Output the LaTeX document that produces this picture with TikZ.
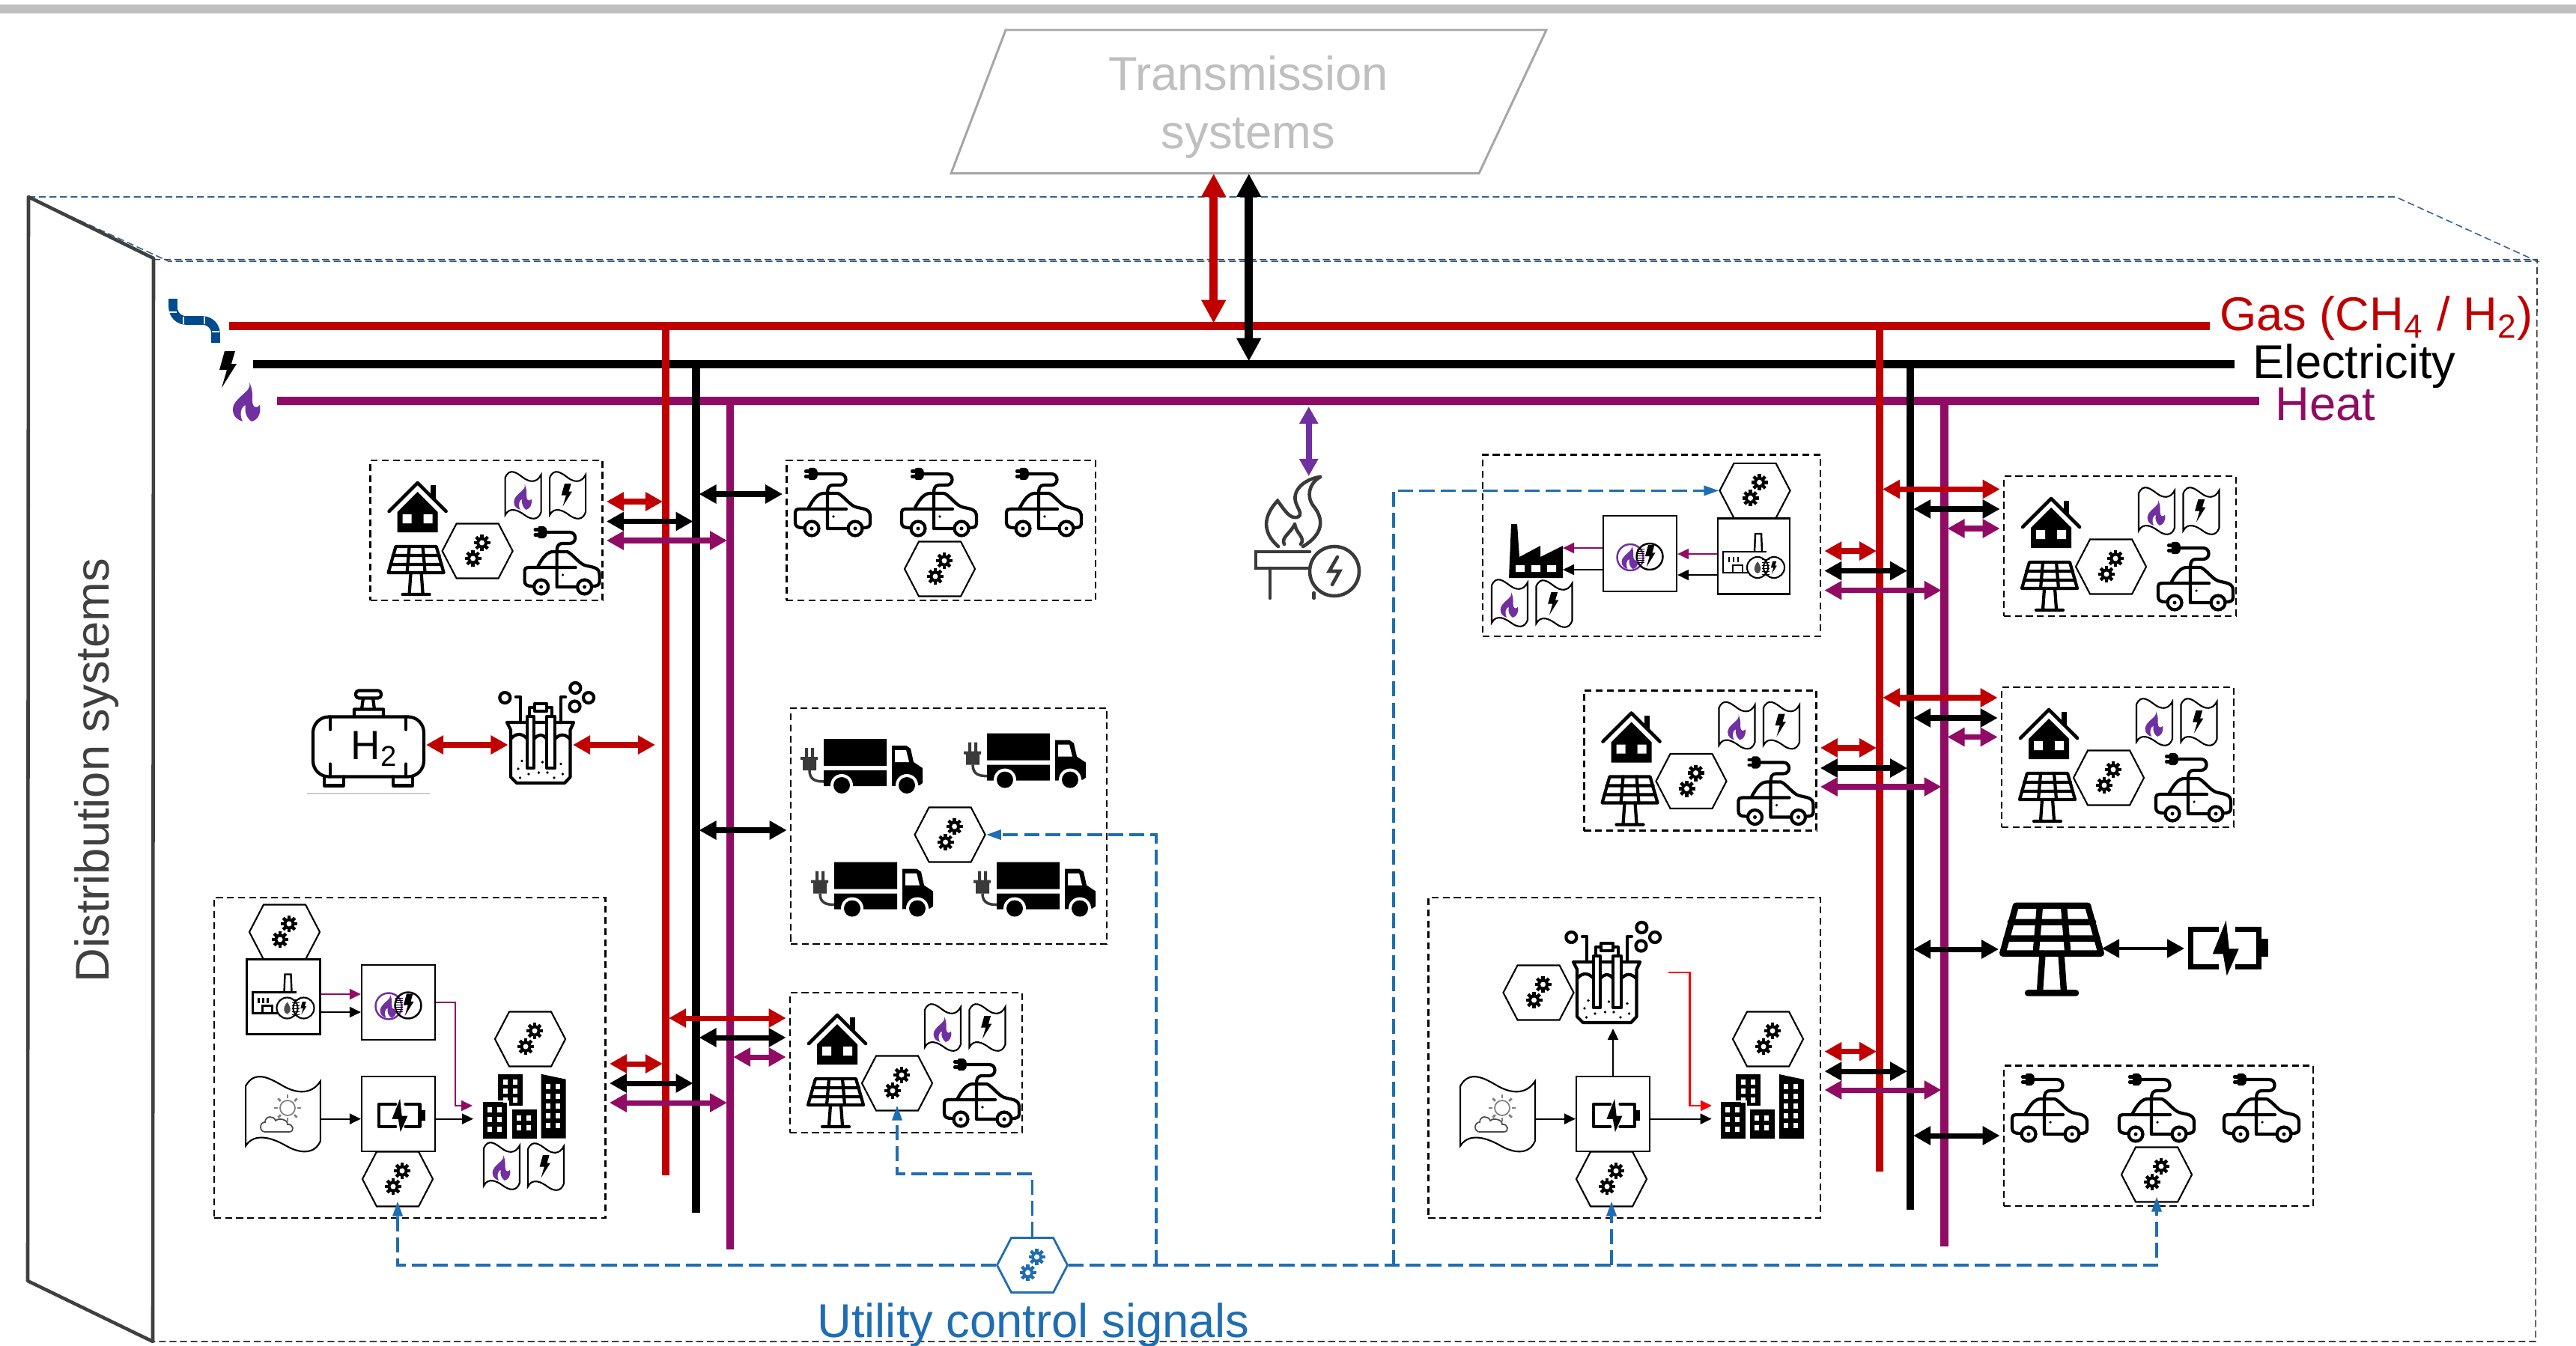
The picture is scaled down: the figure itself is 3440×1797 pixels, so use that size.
\documentclass[tikz,border=0pt]{standalone}
\usepackage{fontspec}
\setmainfont{Liberation Sans}
\usepackage{xcolor}
\usetikzlibrary{arrows.meta, shapes.symbols}

\definecolor{gascol}{HTML}{C00000}
\definecolor{heatcol}{HTML}{900C64}
\definecolor{flamecol}{HTML}{7030A0}
\definecolor{ctrlcol}{HTML}{1F6DB2}
\definecolor{backcol}{HTML}{2F6594}
\definecolor{pipecol}{HTML}{004B8D}
\definecolor{wallcol}{HTML}{404040}
\definecolor{burncol}{HTML}{3A3A3A}

% icons, local units are pixels of the picture
\tikzset{
  icon/.style={draw=black, line width=1.2pt, line cap=round, line join=round},
  thinicon/.style={draw=black, line width=.6pt},
  gear/.pic={
    \fill circle (7.5);
    \foreach \a in {0,45,...,315} \fill[rotate=\a] (-2.2,-11) rectangle (2.2,0);
    \fill[white] circle (3.5);
  },
  gears/.pic={\pic at (6,-11) {gear}; \pic at (-6,10) {gear};},
  flame/.pic={
    \fill[flamecol] (3,-26) .. controls (8,-14) and (-19,-6) .. (-19,10)
      .. controls (-19,20) and (-12,24) .. (-6,26) .. controls (-11,16) and (-8,6) .. (-2,4)
      .. controls (-4,14) and (0,22) .. (6,26) .. controls (14,24) and (19,16) .. (17,4)
      .. controls (14,8) and (10,8) .. (8,4) .. controls (5,-4) and (10,-12) .. (3,-26) -- cycle;
  },
  bolt/.pic={
    \fill (-5,-24) -- (9,-24) -- (4,-7) -- (11,-7) -- (-9,25) -- (-2,1) -- (-12,1) -- cycle;
  },
  flag/.pic={
    \draw[thinicon] (-24,-24) .. controls (-18,-38) and (-8,-30) .. (0,-24)
      .. controls (8,-18) and (18,-16) .. (24,-28) -- (24,22)
      .. controls (20,34) and (10,32) .. (2,26) .. controls (-6,20) and (-18,14) .. (-24,26) -- cycle;
  },
  heatflag/.pic={\pic {flag}; \pic[scale=.65] at (0,2) {flame};},
  elecflag/.pic={\pic {flag}; \pic[scale=.62] at (-1,-1) {bolt};},
  weatherflag/.pic={
    \pic[xscale=2.08, yscale=1.6] {flag};
    \draw[gray, line width=.5pt] (6,-9) circle (10);
    \foreach \a in {0,45,...,315} \draw[gray, line width=.8pt, rotate around={\a:(6,-9)}] (6,-22) -- (6,-27);
    \draw[black!70, line width=.5pt, fill=white] (-24,23) .. controls (-32,23) and (-32,10) .. (-24,10)
      .. controls (-24,1) and (-12,1) .. (-10,8) .. controls (-6,4) and (6,6) .. (6,13)
      .. controls (14,12) and (16,23) .. (8,23) -- cycle;
  },
  house/.pic={
    \draw[icon, line width=1.3pt] (-38,5) -- (0,-33) -- (38,5);
    \fill (17,-30) rectangle (24,-12);
    \fill (-27,6) -- (0,-21) -- (27,6) -- (27,33) -- (-27,33) -- cycle;
    \fill[white] (-20,9) rectangle (-8,21) (8,9) rectangle (20,21);
  },
  solar/.pic={
    \draw[icon] (-27,-33) -- (27,-33) -- (37,2) -- (-37,2) -- cycle;
    \draw[icon] (-9,-33) -- (-12,2) (9,-33) -- (12,2) (-31,-21) -- (31,-21) (-34,-9) -- (34,-9);
    \draw[icon] (-7,2) -- (-9,30) (7,2) -- (9,30) (-18,31) -- (18,31);
  },
  evcar/.pic={
    \draw[icon] (-36,-42.5) -- (-30,-42.5) (-36,-35.5) -- (-30,-35.5);
    \draw[icon, fill=black] (-30,-45) -- (-25,-45) .. controls (-21,-45) and (-21,-33) .. (-25,-33) -- (-30,-33) -- cycle;
    \draw[icon] (-22,-39) -- (10,-39) .. controls (20,-39) and (20,-24) .. (10,-24) -- (0,-24)
      .. controls (-5,-24) and (-7,-20) .. (-7,-14) -- (-7,34) -- (19,34);
    \draw[icon] (-32,6) .. controls (-26,-5) and (-20,-13) .. (-12,-13) -- (7,-13)
      .. controls (14,-10) and (22,2) .. (30,5) .. controls (40,8) and (50,7) .. (50,18)
      -- (50,27) .. controls (50,32) and (46,33) .. (41,33);
    \draw[icon] (-40,33) .. controls (-47,33) and (-50,31) .. (-50,26) -- (-50,12)
      .. controls (-50,9) and (-48,8) .. (-45,8) -- (18,8);
    \draw[icon] (-28,34) circle (9.5) (30,34) circle (9.5);
    \fill (-28,34) circle (2.5) (30,34) circle (2.5) (1,18) circle (1.8);
  },
  truck/.pic={
    \fill (-50,-37) rectangle (34,-1) (-50,5) rectangle (34,26);
    \fill (41,-28) -- (60,-28) -- (66,-24) -- (70,-6) -- (82,2) -- (82,22) -- (78,25) -- (41,26) -- cycle;
    \fill[white] (45,-22) -- (60,-22) -- (64,-6) -- (45,-6) -- cycle;
    \fill[white] (-26,25) circle (15) (61,25) circle (15);
    \fill (-26,25) circle (11) (61,25) circle (11);
    \fill[burncol] (-75,-25) rectangle (-71,-12) (-67,-25) rectangle (-63,-12)
      (-81,-13) rectangle (-58,-9) (-78,-9) rectangle (-60,5);
    \draw[burncol, line width=1pt] (-69,5) .. controls (-69,18) and (-60,20) .. (-50,20);
  },
  batt/.pic={
    \draw[icon] (-13,-25) -- (-50,-25) -- (-50,25) -- (-13,25) (9,-25) -- (41,-25) -- (41,25) -- (9,25);
    \fill (44,-12) rectangle (53,12);
    \fill (-3,-37) -- (-21,8) -- (-7,8) -- (-2,37) -- (14,1) -- (1,1) -- cycle;
  },
  chpicon/.pic={
    \draw[thinicon, line width=.7pt] (-5,22) -- (-41,22) -- (-41,-6) -- (17,-6);
    \draw[thinicon, line width=.7pt] (1,-6) -- (2,-30) -- (10,-30) -- (11,-6);
    \draw[thinicon] (-33,1) -- (-33,8) (-27,1) -- (-27,8) (-21,1) -- (-21,8) (-28,22) -- (-28,12) -- (-15,12) -- (-15,22);
    \draw[thinicon, fill=white] (5,15) circle (14) (27,15) circle (14);
    \foreach \l in {4,8,12,16,20,24} \draw[thinicon, line width=.25pt] (11,\l) -- (21,\l);
    \fill[black!70] (5,7) .. controls (12,16) and (9,22) .. (5,23) .. controls (1,22) and (-2,16) .. (5,7) -- cycle;
    \pic[scale=.35] at (27,15) {bolt};
  },
  convicon/.pic={
    \draw[flamecol, line width=.7pt] (-13,5) circle (17.5);
    \draw[thinicon, line width=.7pt] (13,4) circle (17.5);
    \pic[scale=.6] at (-13,5) {flame};
    \pic[scale=.6] at (14,3) {bolt};
    \foreach \l in {-6,-3,0,3,6,9,12} \draw[thinicon, line width=.25pt] (-4,\l) -- (6,\l);
  },
  city/.pic={
    \fill (-35,-43) rectangle (-2,-1);
    \fill[draw=white, line width=.6pt] (-56,-7) rectangle (-21,44);
    \fill (-16,4) rectangle (17,43);
    \fill (23,-43) -- (56,-36) -- (56,43) -- (23,43) -- cycle;
    \foreach \wx in {-49,-36} \foreach \wy in {1,14,27} \fill[white] (\wx,\wy) rectangle +(6,7);
    \foreach \wx in {-28,-15} \foreach \wy in {-36,-24,-12} \fill[white] (\wx,\wy) rectangle +(6,7);
    \foreach \wx in {-10,3} \foreach \wy in {12,25} \fill[white] (\wx,\wy) rectangle +(6,7);
    \foreach \wx in {29,42} \foreach \wy in {-30,-17,-4,9,22} \fill[white] (\wx,\wy) rectangle +(6,7);
  },
  factory/.pic={
    \fill (-36,36) -- (-33,-36) -- (-25,-36) -- (-22,8) -- (6,-7) -- (6,8) -- (36,-7) -- (36,36) -- cycle;
    \fill[white] (-27,19) rectangle (-15,28) (-6,19) rectangle (6,28) (15,19) rectangle (27,28);
  },
  electro/.pic={
    \draw[icon] (-53,-15) -- (36,-15) -- (31.5,-5) -- (31.5,58) -- (24,66) -- (-40,66) -- (-48,58) -- (-48,-5) -- cycle;
    \draw[icon] (-48,7) .. controls (-40,-2) and (-32,0) .. (-26,7) (-17,7) .. controls (-10,0) and (-6,0) .. (0,7)
      (11,7) .. controls (18,0) and (24,0) .. (31,7);
    \draw[icon, fill=white] (-26,-23) rectangle (-17,46) (0,-23) rectangle (11,46);
    \draw[icon] (-23,-23) -- (-23,-35) -- (7,-35) -- (7,-23);
    \draw[icon, fill=white] (-16,-40) rectangle (0,-30);
    \draw[icon] (-35,-15) -- (-35,-49) -- (-41,-49) (19,-15) -- (19,-49) -- (25,-49);
    \draw[icon] (-55.7,-48) circle (7) (38.3,-61) circle (7) (56,-48) circle (7) (37.5,-36.5) circle (7);
    \foreach \dx/\dy in {-33/36.5,-5.6/38,19/40.5,-38/47,-24/54,-10.6/52,1/52,21.5/54,-35.5/59,10/59}
      \fill (\dx,\dy) circle (1.9);
  },
  tank/.pic={
    \draw[icon, rounded corners=6pt] (-74,-40) rectangle (74,40);
    \draw[icon] (-51,-40) -- (-51,-23) (50,-40) -- (50,-23) (-51,23) -- (-51,40) (50,23) -- (50,40);
    \draw[icon] (-19,-41) -- (-19,-50) -- (20,-50) -- (20,-41) (-9,-50) -- (-7,-65) (8,-50) -- (6,-65);
    \draw[icon, rounded corners=1.2pt, fill=white] (-17,-75) rectangle (17,-65);
    \draw[icon] (-59,40) -- (-59,52) -- (-33,52) -- (-33,40) (33,40) -- (33,52) -- (59,52) -- (59,40);
    \draw[black!20, line width=.5pt] (-82,62.5) -- (82,62.5);
  },
  burner/.pic={
    \begin{scope}[burncol, line width=1.3pt, line cap=round]
    \draw (17,-81) .. controls (-5,-78) and (-22,-62) .. (-15,-45) .. controls (-11,-35) and (-6,-30) .. (-14,-27)
      .. controls (-24,-25) and (-30,-36) .. (-40,-49) .. controls (-58,-30) and (-62,-8) .. (-39,12);
    \draw (17,-81) .. controls (2,-72) and (-2,-55) .. (8,-42) .. controls (22,-25) and (22,-5) .. (-6,12);
    \draw (-17,-18) .. controls (-22,-6) and (-36,0) .. (-31,9) (-17,-18) .. controls (-16,-6) and (-2,0) .. (-9,9);
    \draw (3,19) -- (-69,19) -- (-69,41) -- (3,41) (-50,41) -- (-50,81) (8.6,74) -- (8.6,81);
    \draw (36,45) circle (33);
    \draw (40,26) -- (29,45) -- (43,45) -- (33,63);
    \end{scope}
  },
  pipe/.pic={
    \draw[pipecol, line width=3.3pt, rounded corners=5pt] (-29,-30) -- (-29,-1) -- (28,-1) -- (28,29);
    \draw[white, line width=.4pt] (-34,-12) -- (-24,-12) (-15,-6) -- (-15,4) (13,-6) -- (13,4) (23,14) -- (33,14);
  },
  prosumer/.pic={
    \node[groupbox, minimum width=3.1cm, minimum height=1.87cm] (-box) at (155,93.5) {};
    \node[hexnode] (-hex) at (143,121) {};
    \pic at (-hex) {gears};
    \pic at (63,63) {house};
    \pic at (61,148) {solar};
    \pic at (204,47) {heatflag};
    \pic at (263.5,47) {elecflag};
    \pic at (256,135) {evcar};
  }
}

\tikzset{
  groupbox/.style={rectangle, draw, line width=.7pt, dash pattern=on 2.6pt off 1.6pt, inner sep=0pt},
  hexnode/.style={shape=signal, signal to=east and west, signal pointer angle=125, draw, line width=.6pt,
                  fill=white, minimum width=.94cm, minimum height=.73cm, inner sep=0pt},
  unitbox/.style={rectangle, draw, line width=.6pt, fill=white, minimum width=.98cm, minimum height=1cm, inner sep=0pt}
}

\begin{document}
\begin{tikzpicture}[
    x=0.01cm, y=-0.01cm,
    bigtext/.style={font=\fontsize{18}{22}\selectfont, inner sep=0pt, align=center},
    bus/.style={line width=3pt},
    bustip/.style={line width=2pt, shorten <=0.04cm, shorten >=0.04cm,
                   {Triangle[length=0.23cm,width=0.24cm]}-{Triangle[length=0.23cm,width=0.24cm]}},
    maintip/.style={line width=3pt, shorten >=0.04cm,
                   {Triangle[length=0.31cm,width=0.31cm]}-{Triangle[length=0.31cm,width=0.31cm]}},
    flow/.style={line width=.6pt, -{Triangle[length=0.15cm,width=0.14cm]}},
    sigline/.style={ctrlcol, line width=1pt, dash pattern=on 5.7pt off 2.3pt},
    sigtip/.style={sigline, shorten >=-0.08cm, -{Triangle[length=0.2cm,width=0.13cm]}},
    frame/.style={wallcol, line width=.45pt, dash pattern=on 2.6pt off 1.4pt},
    backline/.style={backcol, line width=.45pt, dash pattern=on 2.6pt off 1.4pt}]
  \useasboundingbox (0,0) rectangle (3440,1797);
  \fill[black!25] (0,6.5) rectangle (3440,18);

  % outer frame and wall
  \draw[backline] (38,263) -- (3199,263) -- (3388,349) -- (225,349) -- cycle;
  \draw[frame] (205,346.7) -- (3388,346.7) -- (3386,1792) -- (204,1792);
  \draw[wallcol, line width=1.3pt, line join=round] (38,263) -- (205,345) -- (204,1792) -- (37,1711) -- cycle;
  \node[bigtext, wallcol, rotate=90] (walltext) at (129,1029) {Distribution systems};

  % transmission
  \draw[black!35, line width=.85pt] (1343,40) -- (2065,40) -- (1975,231.7) -- (1270,231.7) -- cycle;
  \node[bigtext, black!25] (trans) at (1667,143) {Transmission\\systems};
  \coordinate (transgas) at (1620.7,232);
  \coordinate (transelec) at (1667.7,232);

  % main lines
  \coordinate (gasW) at (306,435.7);   \coordinate (gasE) at (2951,435.7);
  \coordinate (elecW) at (338,486.7);  \coordinate (elecE) at (2984,486.7);
  \coordinate (heatW) at (370,535.7); \coordinate (heatE) at (3017,535.7);
  \coordinate (gasL) at (889,1570);  \coordinate (elecL) at (929.5,1620); \coordinate (heatL) at (975,1669);
  \coordinate (gasR) at (2510,1565); \coordinate (elecR) at (2551,1616);  \coordinate (heatR) at (2596.5,1665);
  \draw[bus, gascol] (gasW) -- (gasE);
  \draw[bus, black] (elecW) -- (elecE);
  \draw[bus, heatcol] (heatW) -- (heatE);
  \draw[bus, heatcol] (heatL |- heatW) -- (heatL);
  \draw[bus, heatcol] (heatR |- heatW) -- (heatR);
  \draw[bus, black] (elecL |- elecW) -- (elecL);
  \draw[bus, black] (elecR |- elecW) -- (elecR);
  \draw[bus, gascol] (gasL |- gasW) -- (gasL);
  \draw[bus, gascol] (gasR |- gasW) -- (gasR);
  \draw[maintip, gascol] (transgas) -- (transgas |- gasW);
  \draw[maintip, black] (transelec) -- (transelec |- elecW);
  \node[bigtext, gascol, anchor=base west] (gastext) at (2963.5,441.7) {Gas (CH\textsubscript{4} / H\textsubscript{2})};
  \node[bigtext, black, anchor=base west] (electext) at (3008,505) {Electricity};
  \node[bigtext, heatcol, anchor=base west] (heattext) at (3038,561) {Heat};
  \pic at (260,429) {pipe};
  \pic at (305,493) {bolt};
  \pic at (330,537) {flame};

  % prosumer groups
  \pic (p1) at (494.6,615) {prosumer};
  \pic (p5) at (1055,1326) {prosumer};
  \pic (p7) at (2676,636) {prosumer};
  \pic (p8) at (2115.5,922.5) {prosumer};
  \pic (p9) at (2673,918) {prosumer};

  % car groups
  \node[groupbox, minimum width=4.125cm, minimum height=1.87cm] (evbox) at (1256.7,708.5) {};
  \node[hexnode] (evhex) at (1255,760) {};
  \pic at (evhex) {gears};
  \foreach \cx in {1112,1254,1394} \pic at (\cx,672) {evcar};
  \node[groupbox, minimum width=4.13cm, minimum height=1.875cm] (evbox2) at (2882.5,1517.3) {};
  \node[hexnode] (evhex2) at (2880,1569) {};
  \pic at (evhex2) {gears};
  \foreach \cx in {2737,2880,3020} \pic at (\cx,1481) {evcar};

  % trucks
  \node[groupbox, minimum width=4.22cm, minimum height=3.15cm] (trbox) at (1267,1103.5) {};
  \node[hexnode] (trhex) at (1268.6,1115) {};
  \pic at (trhex) {gears};
  \foreach \tx/\ty in {1150/1024,1368/1016.6,1164/1188.5,1381/1188.5} \pic at (\tx,\ty) {truck};

  % burner, hydrogen
  \pic at (1746,718) {burner};
  \coordinate (burnertop) at (1747.7,636);
  \coordinate (burnerbus) at (1747.7,543);
  \draw[bustip, flamecol, line width=2.2pt, shorten >=0pt, shorten <=0pt] (burnerbus) -- (burnertop);
  \pic at (492,997.5) {tank};
  \node[inner sep=0pt, font=\fontsize{15.5}{18}\selectfont] (h2text) at (500,1000) {H\textsubscript{2}};
  \pic at (730,980) {electro};
  \coordinate (tankend) at (569,995);
  \coordinate (elA) at (678.5,995);
  \coordinate (elB) at (765,995);
  \draw[bustip, gascol, shorten >=0pt, shorten <=0pt] (tankend) -- (elA);
  \draw[bustip, gascol, shorten >=0.14cm, shorten <=0pt] (elB) -- (elB -| gasL);

  % left big group
  \node[groupbox, minimum width=5.225cm, minimum height=4.28cm] (leftbox) at (547.3,1413) {};
  \node[hexnode] (lefthexa) at (380,1245) {};
  \pic at (lefthexa) {gears};
  \node[unitbox] (leftchp) at (378.5,1331.5) {};
  \pic at (leftchp) {chpicon};
  \node[unitbox] (leftconv) at (532,1339) {};
  \pic at (leftconv) {convicon};
  \pic (leftsky) at (378,1489) {weatherflag};
  \coordinate (leftskyend) at (427.5,1494.6);
  \node[unitbox] (leftbat) at (532,1488) {};
  \pic[scale=.6] at (536,1490) {batt};
  \node[hexnode] (lefthexb) at (531,1575) {};
  \pic at (lefthexb) {gears};
  \node[hexnode] (lefthexc) at (708,1388) {};
  \pic at (lefthexc) {gears};
  \pic at (699.5,1477.7) {city};
  \coordinate (leftcity) at (632,1494.6);
  \coordinate (leftcitytop) at (631,1477);
  \pic at (670,1558) {heatflag};
  \pic at (729,1559) {elecflag};
  \draw[flow, heatcol] (leftchp.east |- 0,1328) -- (leftconv.west |- 0,1328);
  \draw[flow] (leftchp.east |- 0,1352) -- (leftconv.west |- 0,1352);
  \draw[flow, heatcol] (leftconv.east) -- ++(26,0) |- (leftcitytop);
  \draw[flow] (leftskyend) -- (leftbat.west |- leftskyend);
  \draw[flow] (leftbat.east |- leftcity) -- (leftcity);

  % right big group
  \node[groupbox, minimum width=5.235cm, minimum height=4.28cm] (rightbox) at (2169.3,1413) {};
  \pic at (2154,1300) {electro};
  \coordinate (rightel) at (2154,1374);
  \coordinate (rightelred) at (2227.5,1299.4);
  \node[hexnode] (righthexa) at (2054.5,1326) {};
  \pic at (righthexa) {gears};
  \pic at (2000,1489) {weatherflag};
  \coordinate (rightskyend) at (2049,1494.6);
  \node[unitbox] (rightbat) at (2154,1488) {};
  \pic[scale=.6] at (2158,1490) {batt};
  \node[hexnode] (righthexb) at (2152,1575) {};
  \pic at (righthexb) {gears};
  \node[hexnode] (righthexc) at (2361,1388) {};
  \pic at (righthexc) {gears};
  \pic at (2353,1478) {city};
  \coordinate (rightcity) at (2285.6,1494.6);
  \coordinate (rightcitytop) at (2286,1477);
  \draw[flow] (rightbat.north) -- (rightel);
  \draw[flow] (rightskyend) -- (rightbat.west |- rightskyend);
  \draw[flow] (rightbat.east |- rightcity) -- (rightcity);
  \draw[flow, red] (rightelred) -- ++(29,0) |- (rightcitytop);

  % industry group
  \node[groupbox, minimum width=4.51cm, minimum height=2.425cm] (indbox) at (2205.5,728.7) {};
  \node[hexnode] (indhex) at (2343.5,655.4) {};
  \pic at (indhex) {gears};
  \node[unitbox, minimum width=.96cm, minimum height=1.01cm] (indchp) at (2342,743) {};
  \pic at (indchp) {chpicon};
  \node[unitbox, minimum height=1.01cm] (indconv) at (2190,739.5) {};
  \pic at (indconv) {convicon};
  \pic at (2051,736) {factory};
  \coordinate (indfac) at (2087,736);
  \pic at (2016,806) {heatflag};
  \pic at (2075.5,807) {elecflag};
  \draw[flow, heatcol] (indchp.west |- 0,740) -- (indconv.east |- 0,740);
  \draw[flow] (indchp.west |- 0,768) -- (indconv.east |- 0,768);
  \draw[flow, heatcol] (indconv.west |- 0,732) -- (indfac |- 0,732);
  \draw[flow] (indconv.west |- 0,761) -- (indfac |- 0,761);

  % solar and storage
  \pic[xscale=1.78, yscale=1.82, icon/.style={draw=black, line width=2.4pt, line cap=round, line join=round}] at (2740,1270) {solar};
  \pic[icon/.style={draw=black, line width=1.85pt}] at (2975.7,1266.4) {batt};
  \coordinate (solarL) at (2673,1268);
  \coordinate (solarR) at (2807,1267);
  \coordinate (battL) at (2917,1267);

  % gas, electricity and heat links
  \foreach \b/\g/\e/\h/\ya/\yb/\yc in {
      p1-box.east/gasL/elecL/heatL/670/696.5/722,
      leftbox.east/gasL/elecL/heatL/1421/1447/1473,
      p5-box.west/gasL/elecL/heatL/1360/1386/1412,
      indbox.east/gasR/elecR/heatR/736/762.5/788.6,
      p8-box.east/gasR/elecR/heatR/999/1026/1051,
      rightbox.east/gasR/elecR/heatR/1404.6/1431/1456,
      p7-box.west/gasR/elecR/heatR/653.5/680/706,
      p9-box.west/gasR/elecR/heatR/932/959/984.5}{
    \draw[bustip, gascol] (\b |- 0,\ya) -- (\g |- 0,\ya);
    \draw[bustip, black] (\b |- 0,\yb) -- (\e |- 0,\yb);
    \draw[bustip, heatcol] (\b |- 0,\yc) -- (\h |- 0,\yc);
  }
  \draw[bustip] (elecL |- 0,660) -- (evbox.west |- 0,660);
  \draw[bustip] (elecL |- 0,1109) -- (trbox.west |- 0,1109);
  \draw[bustip] (elecR |- 0,1517) -- (evbox2.west |- 0,1517);
  \draw[bustip] (elecR |- solarL) -- (solarL);
  \draw[bustip, line width=1.4pt, shorten >=0pt, shorten <=0pt] (solarR) -- (battL);

  % control signals
  \node[hexnode, draw=ctrlcol, line width=.8pt] (ctrl) at (1378.5,1690) {};
  \pic[ctrlcol] at (ctrl) {gears};
  \node[bigtext, ctrlcol] (ctrltext) at (1380,1770) {Utility control signals};
  \coordinate (sigtruck) at (1544,1690);
  \coordinate (sigind) at (1861,1690);
  \coordinate (sigright) at (2152,1690);
  \draw[sigtip] (ctrl.west) -| (lefthexb.south);
  \draw[sigtip] (ctrl.east) -| (evhex2.south);
  \draw[sigtip] (ctrl.north) |- (p5-hex |- 0,1568) -- (p5-hex.south);
  \draw[sigline, -{Triangle[length=0.2cm,width=0.13cm]}] (sigtruck) |- (trhex.east);
  \draw[sigline, -{Triangle[length=0.2cm,width=0.13cm]}] (sigind) |- (indhex.west);
  \draw[sigtip] (sigright) -- (righthexb.south);
\end{tikzpicture}
\end{document}
